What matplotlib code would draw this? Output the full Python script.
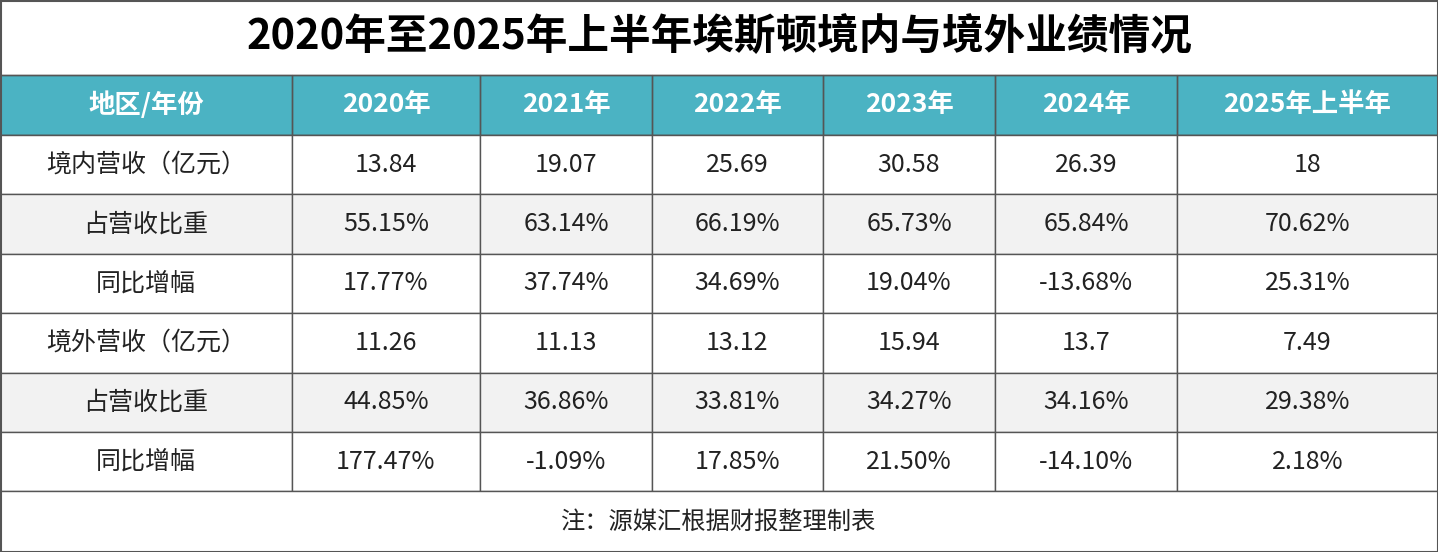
import matplotlib.pyplot as plt
from matplotlib.patches import Rectangle

plt.rcParams['font.family'] = ['Noto Sans CJK SC', 'DejaVu Sans']

title = "2020年至2025年上半年埃斯顿境内与境外业绩情况"
header = ["地区/年份", "2020年", "2021年", "2022年", "2023年", "2024年", "2025年上半年"]
row_labels = ["境内营收（亿元）", "占营收比重", "同比增幅", "境外营收（亿元）", "占营收比重", "同比增幅"]
domestic_rev = ["13.84", "19.07", "25.69", "30.58", "26.39", "18"]
domestic_share = ["55.15%", "63.14%", "66.19%", "65.73%", "65.84%", "70.62%"]
domestic_yoy = ["17.77%", "37.74%", "34.69%", "19.04%", "-13.68%", "25.31%"]
overseas_rev = ["11.26", "11.13", "13.12", "15.94", "13.7", "7.49"]
overseas_share = ["44.85%", "36.86%", "33.81%", "34.27%", "34.16%", "29.38%"]
overseas_yoy = ["177.47%", "-1.09%", "17.85%", "21.50%", "-14.10%", "2.18%"]
note = "注：源媒汇根据财报整理制表"

rows = [domestic_rev, domestic_share, domestic_yoy, overseas_rev, overseas_share, overseas_yoy]
col_edges = [0, 292, 480, 652, 823, 995, 1177, 1438]
W, H = 1438, 552
title_h, head_h, row_h = 75, 60, 59.4

fig = plt.figure(figsize=(W / 100, H / 100), dpi=100)
ax = fig.add_axes([0, 0, 1, 1])
ax.set_xlim(0, W)
ax.set_ylim(H, 0)
ax.axis('off')

line = '#555555'
ax.text(W / 2, title_h / 2, title, ha='center', va='center', fontsize=30, fontweight='bold')

y = title_h
ax.add_patch(Rectangle((0, y), W, head_h, facecolor='#4BB3C3', edgecolor=line, lw=1))
for i, h in enumerate(header):
    x0, x1 = col_edges[i], col_edges[i + 1]
    ax.add_patch(Rectangle((x0, y), x1 - x0, head_h, facecolor='none', edgecolor=line, lw=1))
    ax.text((x0 + x1) / 2, y + head_h / 2, h, ha='center', va='center',
            fontsize=19, fontweight='bold', color='white')
y += head_h

for r, (lab, vals) in enumerate(zip(row_labels, rows)):
    bg = '#F2F2F2' if r in (1, 4) else 'white'
    cells = [lab] + vals
    for i, c in enumerate(cells):
        x0, x1 = col_edges[i], col_edges[i + 1]
        ax.add_patch(Rectangle((x0, y), x1 - x0, row_h, facecolor=bg, edgecolor=line, lw=1))
        ax.text((x0 + x1) / 2, y + row_h / 2, c, ha='center', va='center', fontsize=18, color='#222222')
    y += row_h

ax.add_patch(Rectangle((0, y), W, H - y, facecolor='white', edgecolor=line, lw=1))
ax.text(W / 2, (y + H) / 2, note, ha='center', va='center', fontsize=17.5, color='#222222')
ax.add_patch(Rectangle((0.5, 0.5), W - 1, H - 1, facecolor='none', edgecolor=line, lw=1.5))

fig.savefig('out.png', dpi=100)
